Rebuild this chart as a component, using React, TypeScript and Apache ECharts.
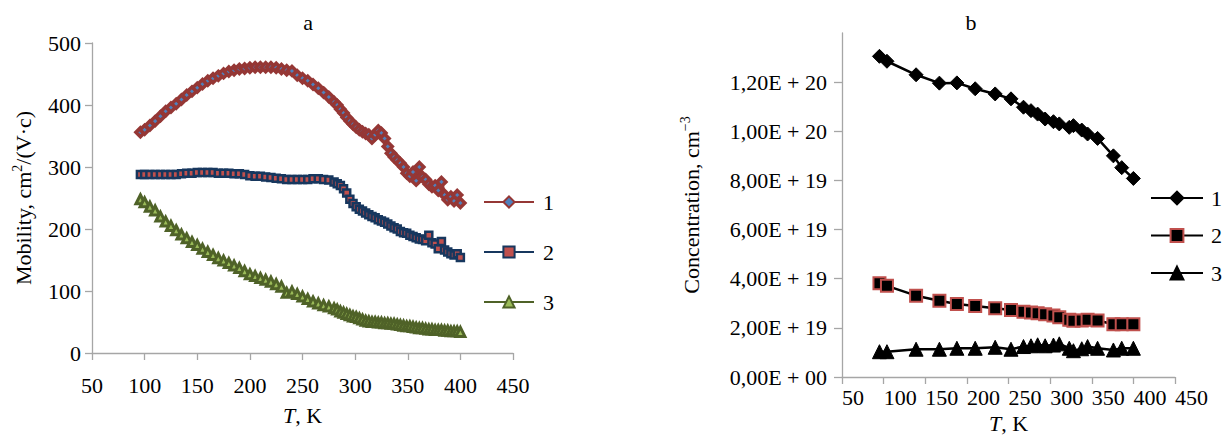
import React, { useEffect, useRef } from "react";
import * as echarts from "echarts";

// ---------- Panel a: mobility vs T ----------
const TA = [
  96, 100, 105, 110, 115, 120, 125, 130, 135, 140, 145, 150, 155, 160, 165, 170, 175, 180, 185, 190,
  195, 200, 205, 210, 215, 220, 225, 230, 235, 240, 245, 250, 255, 260, 265, 270, 275, 280,
  283, 286, 289, 292, 295, 298, 301, 304, 307, 310, 313, 316, 319, 322, 325, 328, 331, 334, 337, 340,
  343, 346, 349, 352, 355, 358, 361, 364, 367, 370, 373, 376, 379, 382, 385, 388, 391, 394, 397, 400,
];
const MU1 = [
  356, 360, 367, 374, 382, 390, 396, 402, 409, 416, 422, 428, 434, 439, 443, 447, 451, 454, 456, 458,
  459, 460, 461, 461, 461, 461, 460, 458, 456, 455, 448, 443, 439, 433, 427, 420, 413, 405,
  400, 393, 387, 380, 374, 369, 364, 360, 357, 354, 352, 346, 352, 359, 355, 346, 333, 322, 316, 311,
  306, 300, 290, 285, 292, 278, 300, 284, 280, 272, 268, 270, 262, 276, 255, 247, 252, 245, 255, 242,
];
const MU2 = [
  288, 288, 288, 288, 288, 288, 288, 288, 289, 290, 290, 291, 291, 291, 291, 290, 290, 290, 289, 289,
  288, 286, 285, 285, 284, 283, 282, 281, 280, 280, 280, 280, 280, 281, 281, 280, 279, 276,
  273, 270, 265, 258, 248, 241, 236, 232, 229, 226, 223, 220, 218, 215, 213, 211, 208, 205, 202, 200,
  196, 194, 193, 190, 188, 186, 184, 183, 181, 190, 178, 176, 168, 180, 166, 163, 160, 158, 160, 154,
];
const MU3 = [
  248, 243, 236, 230, 220, 212, 205, 198, 191, 185, 179, 174, 168, 163, 158, 153, 149, 145, 141, 137,
  132, 127, 124, 121, 118, 115, 111, 107, 97, 99, 95, 91, 87, 83, 80, 77, 75, 72,
  70, 67, 65, 63, 61, 59, 58, 56, 54, 52, 51, 50, 50, 49, 49, 48, 48, 47, 47, 46,
  45, 44, 43, 43, 42, 41, 40, 40, 39, 38, 38, 37, 37, 37, 36, 36, 35, 35, 35, 34,
];

// ---------- Panel b: concentration vs T ----------
const TB = [95, 104, 139, 167, 188, 210, 234, 253, 268, 277, 285, 294, 304, 311, 323, 328, 338, 345, 357, 376, 386, 400];
const N1 = [13.05e19, 12.85e19, 12.3e19, 11.96e19, 11.97e19, 11.73e19, 11.52e19, 11.32e19, 10.98e19, 10.84e19, 10.7e19, 10.5e19, 10.39e19, 10.3e19, 10.16e19, 10.23e19, 10.05e19, 9.89e19, 9.71e19, 9.0e19, 8.52e19, 8.08e19];
const N2 = [3.82e19, 3.71e19, 3.31e19, 3.1e19, 2.97e19, 2.89e19, 2.8e19, 2.73e19, 2.66e19, 2.62e19, 2.59e19, 2.55e19, 2.5e19, 2.43e19, 2.33e19, 2.29e19, 2.3e19, 2.33e19, 2.3e19, 2.15e19, 2.15e19, 2.15e19];
const N3 = [1.03e19, 1.03e19, 1.13e19, 1.13e19, 1.17e19, 1.17e19, 1.21e19, 1.13e19, 1.24e19, 1.27e19, 1.31e19, 1.27e19, 1.3e19, 1.35e19, 1.17e19, 1.07e19, 1.15e19, 1.24e19, 1.17e19, 1.1e19, 1.17e19, 1.17e19];

const X_TICKS = [50, 100, 150, 200, 250, 300, 350, 400, 450];
const CONC_TICKS = [0, 2e19, 4e19, 6e19, 8e19, 10e19, 12e19];
const LEGEND_LABELS = ["1", "2", "3"];

const FONT = "Liberation Serif";
const AXIS_GRAY = "#a6a6a6";

const zip = (xs: number[], ys: number[]) => xs.map((x, i) => [x, ys[i]]);

const fmtConc = (v: number) => {
  if (v === 0) return "0,00E + 00";
  const e = Math.floor(Math.log10(v) + 1e-9);
  const m = v / Math.pow(10, e);
  return `${m.toFixed(2).replace(".", ",")}E + ${e}`;
};

export default function App() {
  const ref = useRef<HTMLDivElement>(null);
  useEffect(() => {
    if (!ref.current) return;
    const chart = echarts.init(ref.current, null, { renderer: "svg" });
    const txt = { fontFamily: FONT, fontSize: 22, color: "#000" };
    const xAxisBase = (grid: number, margin: number, nameGap: number, extra: any = {}) => ({
      gridIndex: grid,
      type: "value",
      min: X_TICKS[0],
      max: X_TICKS[X_TICKS.length - 1],
      interval: 50,
      axisLine: { lineStyle: { color: AXIS_GRAY, width: 1.3 } },
      axisTick: { length: 7, lineStyle: { color: AXIS_GRAY, width: 1.3 } },
      axisLabel: { ...txt, margin, ...extra },
      splitLine: { show: false },
      name: "{i|T}, K",
      nameLocation: "middle",
      nameGap,
      nameTextStyle: { ...txt, rich: { i: { ...txt, fontStyle: "italic" } } },
    });
    const option: any = {
      animation: false,
      textStyle: { fontFamily: FONT },
      title: [
        { text: "a", left: 303, top: 6, textAlign: "center", textStyle: { ...txt, fontWeight: "normal" } },
        { text: "b", left: 966, top: 6, textAlign: "center", textStyle: { ...txt, fontWeight: "normal" } },
      ],
      grid: [
        { left: 92, top: 43, width: 421, height: 310, outerBoundsMode: "none", containLabel: false },
        { left: 842, top: 33, width: 333, height: 344, outerBoundsMode: "none", containLabel: false },
      ],
      xAxis: [
        xAxisBase(0, 21, 51),
        xAxisBase(1, 9, 35, { align: "left" }),
      ],
      yAxis: [
        {
          gridIndex: 0,
          type: "value",
          min: 0,
          max: 500,
          interval: 100,
          axisLine: { show: true, lineStyle: { color: AXIS_GRAY, width: 1.3 } },
          axisTick: { show: true, length: 7, lineStyle: { color: AXIS_GRAY, width: 1.3 } },
          axisLabel: { ...txt, margin: 11 },
          splitLine: { show: false },
          name: "Mobility, cm{sup|2}/(V·c)",
          nameLocation: "middle",
          nameGap: 56,
          nameTextStyle: { ...txt, rich: { sup: { fontFamily: FONT, fontSize: 14, color: "#000", padding: [0, 0, 12, 0] } } },
        },
        {
          gridIndex: 1,
          type: "value",
          min: 0,
          max: 1.4e20,
          interval: 2e19,
          axisLine: { show: true, lineStyle: { color: AXIS_GRAY, width: 1.3 } },
          axisTick: { show: true, length: 8, lineStyle: { color: AXIS_GRAY, width: 1.3 }, customValues: CONC_TICKS },
          axisLabel: {
            ...txt,
            margin: 15,
            customValues: CONC_TICKS,
            formatter: (v: number) => (v > 1.3e20 ? "" : fmtConc(v)),
          },
          splitLine: { show: false },
          name: "Concentration, cm{sup|−3}",
          nameLocation: "middle",
          nameGap: 138,
          nameTextStyle: { ...txt, rich: { sup: { fontFamily: FONT, fontSize: 14, color: "#000", padding: [0, 0, 12, 0] } } },
        },
      ],
      legend: [
        {
          data: ["a1", "a2", "a3"],
          orient: "vertical",
          left: 483,
          top: 191,
          padding: 0,
          itemWidth: 50,
          itemHeight: 14,
          itemGap: 28,
          selectedMode: false,
          formatter: (n: string) => LEGEND_LABELS[Number(n.slice(1)) - 1],
          textStyle: { ...txt, lineHeight: 22, padding: [0, 0, 0, 4] },
        },
        {
          data: ["b1", "b2", "b3"],
          orient: "vertical",
          left: 1150,
          top: 187,
          padding: 0,
          itemWidth: 52,
          itemHeight: 16,
          itemGap: 15.5,
          selectedMode: false,
          formatter: (n: string) => LEGEND_LABELS[Number(n.slice(1)) - 1],
          textStyle: { ...txt, lineHeight: 22, padding: [0, 0, 0, 3] },
        },
      ],
      series: [
        {
          name: "a1", type: "line", xAxisIndex: 0, yAxisIndex: 0, data: zip(TA, MU1),
          showAllSymbol: true, symbol: "diamond", symbolSize: 9,
          lineStyle: { color: "#953735", width: 3.5 },
          itemStyle: { color: "#4F81BD", borderColor: "#953735", borderWidth: 3.5 },
        },
        {
          name: "a2", type: "line", xAxisIndex: 0, yAxisIndex: 0, data: zip(TA, MU2),
          showAllSymbol: true, symbol: "rect", symbolSize: 7,
          lineStyle: { color: "#17375E", width: 3.5 },
          itemStyle: { color: "#C0504D", borderColor: "#17375E", borderWidth: 2.5 },
        },
        {
          name: "a3", type: "line", xAxisIndex: 0, yAxisIndex: 0, data: zip(TA, MU3),
          showAllSymbol: true, symbol: "triangle", symbolSize: 9,
          lineStyle: { color: "#4F6228", width: 3.5 },
          itemStyle: { color: "#9BBB59", borderColor: "#4F6228", borderWidth: 3 },
        },
        {
          name: "b1", type: "line", xAxisIndex: 1, yAxisIndex: 1, data: zip(TB, N1),
          showAllSymbol: true, symbol: "diamond", symbolSize: 14,
          lineStyle: { color: "#000", width: 2.5 },
          itemStyle: { color: "#000", borderColor: "#000", borderWidth: 1 },
        },
        {
          name: "b2", type: "line", xAxisIndex: 1, yAxisIndex: 1, data: zip(TB, N2),
          showAllSymbol: true, symbol: "rect", symbolSize: 12,
          lineStyle: { color: "#000", width: 2.5 },
          itemStyle: { color: "#000", borderColor: "#C0504D", borderWidth: 2 },
        },
        {
          name: "b3", type: "line", xAxisIndex: 1, yAxisIndex: 1, data: zip(TB, N3),
          showAllSymbol: true, symbol: "triangle", symbolSize: 14,
          lineStyle: { color: "#000", width: 2.5 },
          itemStyle: { color: "#000", borderColor: "#000", borderWidth: 1 },
        },
      ],
    };
    chart.setOption(option);
    return () => chart.dispose();
  }, []);
  return (
    <div
      ref={ref}
      style={{ position: "fixed", left: 0, top: 0, width: 1228, height: 437, background: "#fff" }}
    />
  );
}
